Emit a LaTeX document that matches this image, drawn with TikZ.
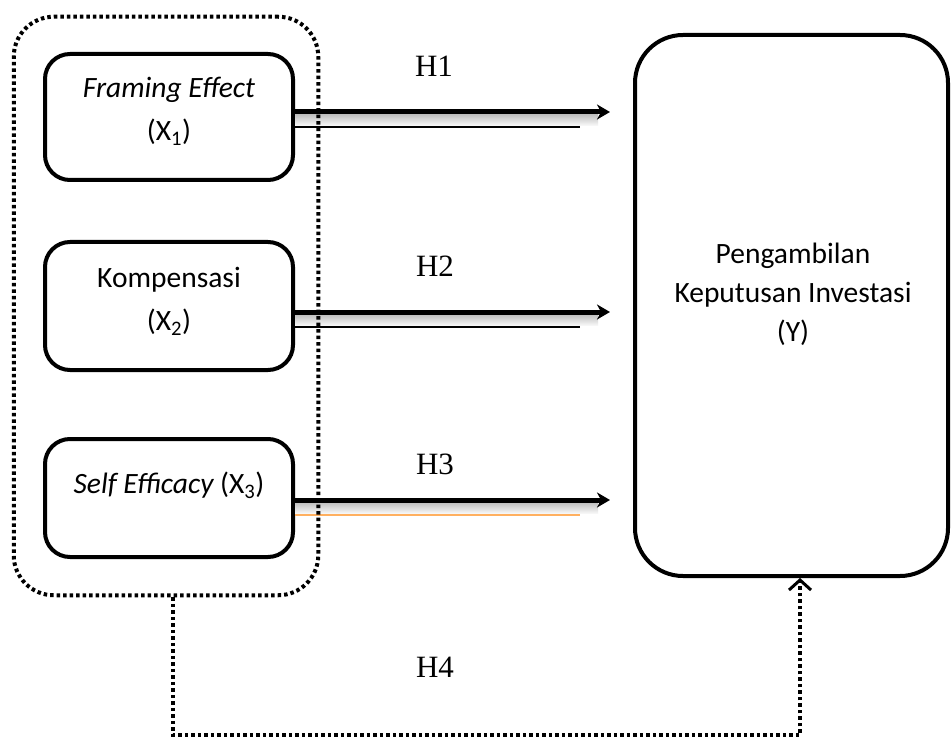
\documentclass[tikz,border=0pt]{standalone}
\usepackage{fontspec}
\setmainfont{Liberation Serif}
\newfontfamily\calfont{Carlito}
\usetikzlibrary{arrows.meta,calc}
\tikzset{
  xbox/.style={draw, line width=4pt, rounded corners=25pt, minimum width=248pt, inner sep=0pt},
  outerbox/.style={draw, line width=4pt, dash pattern=on 3.5pt off 3pt, rounded corners=40pt, minimum width=304.5pt, minimum height=578.5pt, inner sep=0pt},
  ybox/.style={draw, line width=4pt, rounded corners=48pt, minimum width=313pt, minimum height=541pt, inner sep=0pt},
  btxt/.style={font=\calfont\fontsize{29.5}{43}\selectfont, align=center, inner sep=0pt},
  ytxt/.style={font=\calfont\fontsize{29.5}{39}\selectfont, align=center, inner sep=0pt},
  hlab/.style={font=\fontsize{31}{34}\selectfont, inner sep=0pt},
  mainarrow/.style={line width=5pt, -{Stealth[length=13pt,width=15pt,inset=4pt]}},
  thinline/.style={line width=1.6pt},
  dotline/.style={line width=4pt, dash pattern=on 3.5pt off 3pt, -{Straight Barb[length=10pt,width=22pt,line width=3pt]}}
}
\begin{document}
\begin{tikzpicture}[x=1pt,y=-1pt]
\useasboundingbox[fill=white] (0,0) rectangle (952,743);
% boxes
\node[xbox, minimum height=126pt] (x1) at (169,117) {};
\node[xbox, minimum height=128pt] (x2) at (169,306) {};
\node[xbox, minimum height=118pt] (x3) at (169,498) {};
\node[btxt] (x1t) at (169,111) {\itshape Framing Effect\\(X\textsubscript{1})};
\node[btxt] (x2t) at (169,301) {Kompensasi\\(X\textsubscript{2})};
\node[btxt] (x3t) at (169,485) {\itshape Self Efficacy\upshape{} (X\textsubscript{3})};
% dependent variable
\node[ybox] (yb) at (791.5,305.5) {};
\node[ytxt] (ybt) at (793,294) {Pengambilan\\Keputusan Investasi\\(Y)};
% arrow end points
\coordinate (t1) at (610,112);
\coordinate (t2) at (610,312);
\coordinate (t3) at (610,500);
\coordinate (s1) at (580,127);
\coordinate (s2) at (580,327);
\coordinate (s3) at (580,515);
% shadows
\shade[top color=gray!50, bottom color=gray!5] (x1.east |- 0,114.5) rectangle (598,125.5);
\shade[top color=gray!50, bottom color=gray!5] (x2.east |- 0,314.5) rectangle (598,325.5);
\shade[top color=gray!50, bottom color=gray!5] (x3.east |- 0,502.5) rectangle (598,513.5);
% thin under-lines
\draw[thinline] (x1.east |- s1) -- (s1);
\draw[thinline] (x2.east |- s2) -- (s2);
\draw[thinline, draw={rgb,255:red,255;green,176;blue,96}] (x3.east |- s3) -- (s3);
% main arrows
\draw[mainarrow] (x1.east |- t1) -- (t1);
\draw[mainarrow] (x2.east |- t2) -- (t2);
\draw[mainarrow] (x3.east |- t3) -- (t3);
% outer dotted group (drawn over the arrows)
\node[outerbox] (outer) at (166,306) {};
% H4 connector
\coordinate (h4a) at (173,735);
\coordinate (h4b) at (800,735);
\draw[dotline] (outer.south -| h4a) -- (h4a) -- (h4b) -- (yb.south -| h4b);
% labels
\node[hlab] (h1) at (434,66) {H1};
\node[hlab] (h2) at (435,266) {H2};
\node[hlab] (h3) at (435,464) {H3};
\node[hlab] (h4) at (435,667) {H4};
\end{tikzpicture}
\end{document}
